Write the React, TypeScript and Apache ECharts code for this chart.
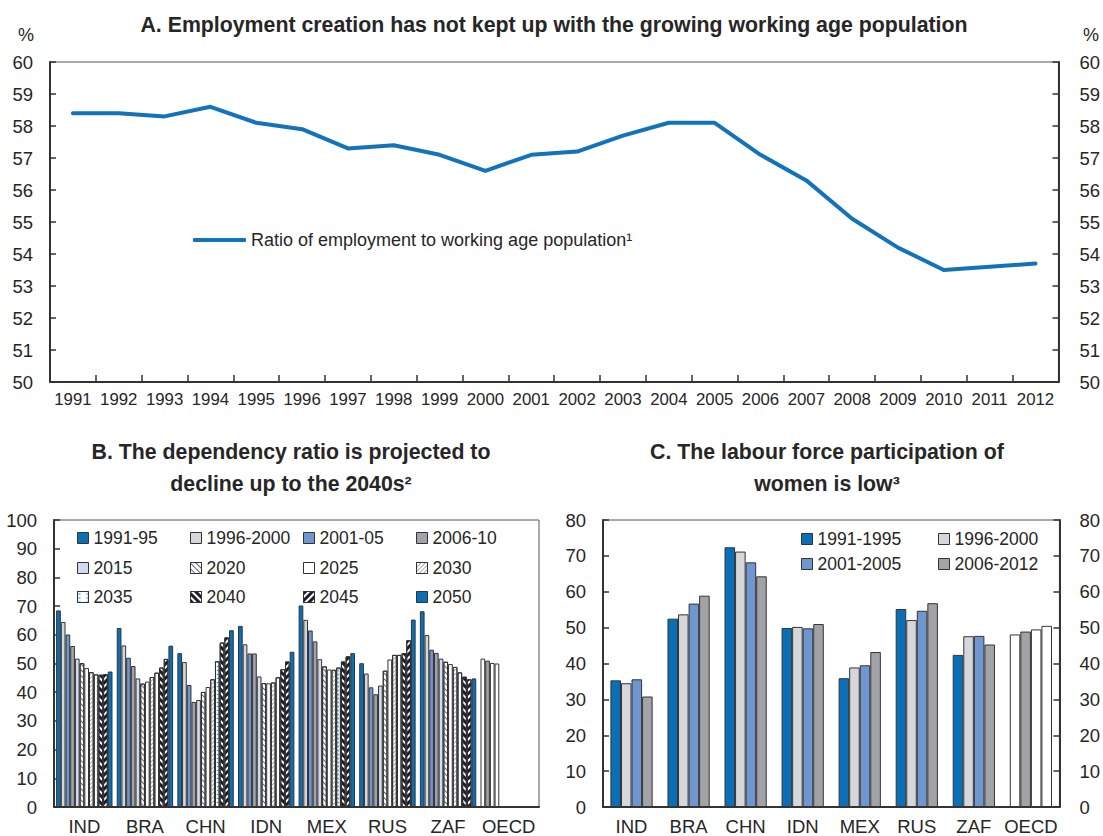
import React, { useEffect, useRef } from "react";
import * as echarts from "echarts";

const years = ["1991","1992","1993","1994","1995","1996","1997","1998","1999","2000","2001","2002","2003","2004","2005","2006","2007","2008","2009","2010","2011","2012"];
const employmentRatio = [58.4,58.4,58.3,58.6,58.1,57.9,57.3,57.4,57.1,56.6,57.1,57.2,57.7,58.1,58.1,57.1,56.3,55.1,54.2,53.5,53.6,53.7];

const countries = ["IND","BRA","CHN","IDN","MEX","RUS","ZAF","OECD"];

const depNames = ["1991-95","1996-2000","2001-05","2006-10","2015","2020","2025","2030","2035","2040","2045","2050"];
const dep1991 = [68.5,62.4,53.6,63.1,70.2,50.1,68.2,51.7];
const dep1996 = [64.5,56.3,50.5,56.7,65.2,46.5,59.9,51.0];
const dep2001 = [60.1,52.0,42.5,53.5,61.5,41.7,54.8,50.2];
const dep2006 = [56.1,49.1,36.6,53.5,57.7,39.3,53.7,50.0];
const dep2015 = [51.7,44.8,37.3,45.5,51.5,42.3,51.7,null];
const dep2020 = [50.1,43.0,40.1,43.2,49.0,47.5,50.6,null];
const dep2025 = [48.4,43.7,41.8,43.1,47.9,51.4,49.8,null];
const dep2030 = [47.0,45.3,44.5,43.4,47.8,53.0,48.8,null];
const dep2035 = [46.2,46.8,50.8,45.2,48.6,53.0,46.9,null];
const dep2040 = [46.1,48.6,57.3,48.0,50.7,53.6,45.4,null];
const dep2045 = [46.3,51.6,59.1,50.7,52.5,58.1,44.5,null];
const dep2050 = [47.2,56.2,61.6,54.1,53.6,65.3,44.8,null];
const depSeries = [dep1991,dep1996,dep2001,dep2006,dep2015,dep2020,dep2025,dep2030,dep2035,dep2040,dep2045,dep2050];

const lfpNames = ["1991-1995","1996-2000","2001-2005","2006-2012"];
const lfp1991 = [35.3,52.5,72.4,49.9,35.9,55.2,42.4,48.1];
const lfp1996 = [34.5,53.7,71.2,50.2,38.9,52.1,47.6,48.9];
const lfp2001 = [35.6,56.7,68.2,49.8,39.5,54.7,47.7,49.5];
const lfp2006 = [30.8,58.9,64.3,51.0,43.2,56.8,45.3,50.5];
const lfpSeries = [lfp1991,lfp1996,lfp2001,lfp2006];

const FONT = "'Liberation Sans', Arial, Helvetica, sans-serif";
const TXT = "#262626";
const BLUE = "#0b6fb8";
const LGRAY = "#d5d7da";
const MBLUE = "#6f96cf";
const GRAY = "#a2a3a7";
const LAV = "#d3dbf0";
const OECD_COLORS = ["#ffffff", "#a2a3a7", "#ffffff", "#ffffff"];

const depStyles: any[] = [
  { color: BLUE },
  { color: LGRAY },
  { color: MBLUE },
  { color: GRAY },
  { color: LAV },
  { color: "#fff", decal: { symbol: "rect", symbolSize: 1, color: "#666", dashArrayX: [1, 0], dashArrayY: [1, 2.5], rotation: Math.PI / 4 } },
  { color: "#fff" },
  { color: "#fff", decal: { symbol: "rect", symbolSize: 1, color: "#aaa", dashArrayX: [1, 0], dashArrayY: [1, 2], rotation: -Math.PI / 4 } },
  { color: "#fff", decal: { symbol: "triangle", symbolSize: 0.8, color: "#3d93d6", dashArrayX: [3, 1], dashArrayY: [3, 5], rotation: -Math.PI / 2 } },
  { color: "#fff", decal: { symbol: "rect", symbolSize: 1, color: "#1d1d2b", dashArrayX: [1, 0], dashArrayY: [2.5, 1.5], rotation: Math.PI / 4 } },
  { color: "#fff", decal: { symbol: "rect", symbolSize: 1, color: "#1d1d2b", dashArrayX: [1, 0], dashArrayY: [2.5, 1.5], rotation: -Math.PI / 4 } },
  { color: BLUE },
];
const lfpColors = [BLUE, LGRAY, MBLUE, GRAY];

export default function App() {
  const ref = useRef<HTMLDivElement>(null);
  useEffect(() => {
    document.body.style.margin = "0";
    const chart = echarts.init(ref.current!, undefined, { renderer: "svg" });
    const axisLine = { show: true, lineStyle: { color: "#333", width: 2 } };
    const axisLabel = (size: number, margin: number, extra: any = {}) => ({ color: TXT, fontSize: size, fontFamily: FONT, margin, ...extra });
    const tick = (len: number) => ({ show: true, inside: true, length: len, lineStyle: { color: "#333", width: 1.5 } });

    const legendText = { color: TXT, fontSize: 17.5, fontFamily: FONT };
    const bCols = [77, 190, 303, 416];
    const bRows = [529, 559, 588];
    const bLegends = depNames.map((n, i) => ({
      data: [n], left: bCols[i % 4], top: bRows[Math.floor(i / 4)], padding: 0,
      icon: "rect", itemWidth: 11, itemHeight: 11, textStyle: legendText, selectedMode: false,
      itemStyle: { borderColor: "#333", borderWidth: 1 },
    }));
    const cCols = [801, 938];
    const cRows = [530, 555];
    const cLegends = lfpNames.map((n, i) => ({
      data: [n], left: cCols[i % 2], top: cRows[Math.floor(i / 2)], padding: 0,
      icon: "rect", itemWidth: 11, itemHeight: 11, textStyle: legendText, selectedMode: false,
      itemStyle: { borderColor: "#333", borderWidth: 1 },
    }));

    const titleStyle = { fontSize: 21.3, fontWeight: "bold", color: TXT, fontFamily: FONT, lineHeight: 32 };
    const option: any = {
      animation: false,
      backgroundColor: "#fff",
      textStyle: { fontFamily: FONT },
      title: [
        { text: "A. Employment creation has not kept up with the growing working age population", left: 549, top: 4, textAlign: "center", textStyle: titleStyle },
        { text: "B. The dependency ratio is projected to\ndecline up to the 2040s²", left: 286, top: 431, textAlign: "center", textStyle: titleStyle },
        { text: "C. The labour force participation of\nwomen is low³", left: 822, top: 431, textAlign: "center", textStyle: titleStyle },
        { text: "%", left: 13, top: 21, textStyle: { fontSize: 18, fontWeight: "normal", color: TXT, fontFamily: FONT } },
        { text: "%", left: 1078, top: 21, textStyle: { fontSize: 18, fontWeight: "normal", color: TXT, fontFamily: FONT } },
      ],
      legend: [
        {
          data: ["Ratio of employment to working age population¹"], left: 193, top: 231, padding: 0,
          icon: "roundRect", itemWidth: 53, itemHeight: 4, selectedMode: false,
          textStyle: { color: TXT, fontSize: 18, fontFamily: FONT },
        },
        ...bLegends,
        ...cLegends,
      ],
      grid: [
        { left: 50, top: 62, width: 1010, height: 320, show: true, borderColor: "#555", borderWidth: 1 },
        { left: 54, top: 520, width: 485, height: 289, show: true, borderColor: "#555", borderWidth: 1 },
        { left: 603, top: 520, width: 457, height: 289, show: true, borderColor: "#555", borderWidth: 1 },
      ],
      xAxis: [
        { gridIndex: 0, type: "category", data: years, boundaryGap: true, axisLine, axisTick: { ...tick(7), interval: 0 }, axisLabel: axisLabel(16.8, 9, { interval: 0 }) },
        { gridIndex: 1, type: "category", data: countries, axisLine, axisTick: { show: false }, axisLabel: axisLabel(18.5, 10, { interval: 0 }) },
        { gridIndex: 2, type: "category", data: countries, axisLine, axisTick: { show: false }, axisLabel: axisLabel(18.5, 10, { interval: 0 }) },
      ],
      yAxis: [
        { gridIndex: 0, type: "value", min: 50, max: 60, interval: 1, axisLine, axisTick: tick(6), splitLine: { show: false }, axisLabel: axisLabel(18.5, 17) },
        { gridIndex: 0, type: "value", position: "right", min: 50, max: 60, interval: 1, axisLine, axisTick: tick(6), splitLine: { show: false }, axisLabel: axisLabel(18.5, 21) },
        { gridIndex: 1, type: "value", min: 0, max: 100, interval: 10, axisLine, axisTick: tick(6), splitLine: { show: false }, axisLabel: axisLabel(18.5, 17) },
        { gridIndex: 2, type: "value", min: 0, max: 80, interval: 10, axisLine, axisTick: tick(6), splitLine: { show: false }, axisLabel: axisLabel(18.5, 17) },
        { gridIndex: 2, type: "value", position: "right", min: 0, max: 80, interval: 10, axisLine, axisTick: tick(6), splitLine: { show: false }, axisLabel: axisLabel(18.5, 20) },
      ],
      series: [
        {
          name: "Ratio of employment to working age population¹", type: "line", xAxisIndex: 0, yAxisIndex: 0,
          data: employmentRatio, showSymbol: false, symbol: "none",
          lineStyle: { color: "#1273bb", width: 4, cap: "round", join: "round" }, itemStyle: { color: "#1273bb" },
        },
        ...depSeries.map((arr, i) => ({
          name: depNames[i], type: "bar", xAxisIndex: 1, yAxisIndex: 2,
          barGap: "0%", barCategoryGap: "7%",
          itemStyle: { ...depStyles[i], borderColor: "#333", borderWidth: 1 },
          data: arr.map((v, k) => (k === 7 && v !== null ? { value: v, itemStyle: { color: OECD_COLORS[i], decal: null } } : v)),
        })),
        ...lfpSeries.map((arr, i) => ({
          name: lfpNames[i], type: "bar", xAxisIndex: 2, yAxisIndex: 3,
          barGap: "0%", barCategoryGap: "26%",
          itemStyle: { color: lfpColors[i], borderColor: "#333", borderWidth: 1 },
          data: arr.map((v, k) => (k === 7 ? { value: v, itemStyle: { color: OECD_COLORS[i] } } : v)),
        })),
      ],
    };
    chart.setOption(option);
    return () => chart.dispose();
  }, []);
  return <div ref={ref} style={{ position: "absolute", left: 0, top: 0, width: 1103, height: 836 }} />;
}
